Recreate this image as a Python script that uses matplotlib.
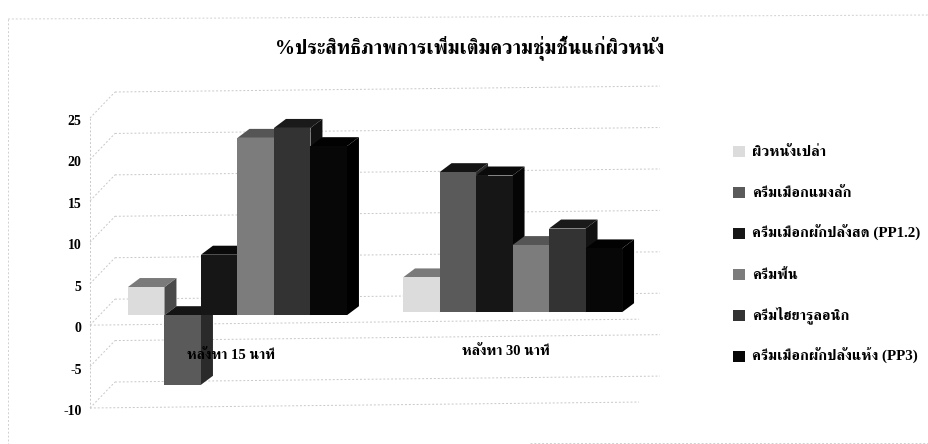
import matplotlib
matplotlib.use("Agg")
import matplotlib.pyplot as plt
from matplotlib.lines import Line2D
from matplotlib.patches import Polygon, Rectangle
from matplotlib.transforms import ScaledTranslation

plt.rcParams['font.family'] = ['Liberation Serif', 'FreeSerif', 'DejaVu Sans']
plt.rcParams['font.weight'] = 'bold'
plt.rcParams['axes.unicode_minus'] = False

# --- data ---
title = '%ประสิทธิภาพการเพิ่มเติมความชุ่มชื้นแก่ผิวหนัง'
categories = ['หลังทา 15 นาที', 'หลังทา 30 นาที']
series_names = ['ผิวหนังเปล่า', 'ครีมเมือกแมงลัก', 'ครีมเมือกผักปลังสด (PP1.2)',
                'ครีมพื้น', 'ครีมไฮยารูลอนิก', 'ครีมเมือกผักปลังแห้ง (PP3)']
skin = [3.4, 4.2]
mucilage = [-8.4, 16.9]
fresh_pp = [7.3, 16.5]
base_cream = [21.4, 8.1]
hyaluronic = [22.6, 10.1]
dried_pp = [20.4, 7.7]
series_values = [skin, mucilage, fresh_pp, base_cream, hyaluronic, dried_pp]
y_ticks = [-10, -5, 0, 5, 10, 15, 20, 25]

# front, side and top shades of each series
fronts = ['#dcdcdc', '#5a5a5a', '#161616', '#7c7c7c', '#333333', '#070707']
sides = ['#4a4a4a', '#2a2a2a', '#050505', '#303030', '#111111', '#000000']
tops = ['#7a7a7a', '#141414', '#0a0a0a', '#555555', '#1a1a1a', '#020202']

fig = plt.figure(figsize=(9.29, 4.44), dpi=100)
W, H = 929, 444
# axes box in pixels: x 90..660, value -10 at y=408 and 25 at y=118
ax = fig.add_axes([90 / W, 1 - 408 / H, 570 / W, 290 / H])
ax.set_ylim(-10, 25)
ax.set_xlim(-0.536, 1.536)

px_x = 2.072 / 570   # data units per pixel
px_y = 35 / 290
depth_x = 12 * px_x
depth_y = 9 * px_y
bar_w = 36.5 * px_x
planes = [1.2, 1.56]  # bars stand part way into the floor, the scan is a bit tilted
wall_x = 25 * px_x
wall_y = 26 * px_y
tilt = 0.36           # gridlines rise to the right in the scan
left = -0.536

grid = dict(color='#c8c8c8', lw=0.7, ls=(0, (2, 2)), zorder=1, clip_on=False)
for t in y_ticks:
    xa = left + wall_x
    ax.plot([xa, 1.536], [t + wall_y, t + wall_y + tilt * (1.536 - xa)], **grid)
    ax.plot([left, xa], [t, t + wall_y], **grid)
for t in [-10, 0]:
    ax.plot([left, 1.46], [t, t + tilt * (1.46 - left)], **grid)
ax.plot([left, left], [-10, 25], **grid)

# 3D looking bars, left to right in each group
for g in range(len(categories)):
    for i, vals in enumerate(series_values):
        x0 = g + (i - 3) * bar_w
        x1 = x0 + bar_w
        y0 = planes[g]
        y1 = planes[g] + vals[g]
        hi = max(y0, y1)
        lo = min(y0, y1)
        ax.add_patch(Polygon([(x1, lo), (x1 + depth_x, lo + depth_y), (x1 + depth_x, hi + depth_y), (x1, hi)],
                             facecolor=sides[i], edgecolor='none', zorder=3 + i, clip_on=False))
        ax.add_patch(Polygon([(x0, hi), (x0 + depth_x, hi + depth_y), (x1 + depth_x, hi + depth_y), (x1, hi)],
                             facecolor=tops[i], edgecolor='none', zorder=3 + i, clip_on=False))
        ax.bar(x0, hi - lo, width=bar_w, bottom=lo, align='edge', color=fronts[i], zorder=3 + i, clip_on=False)

ax.set_yticks(y_ticks)
ax.tick_params(axis='y', length=0, labelsize=10, pad=6)
ax.set_xticks([])
for s in ax.spines.values():
    s.set_visible(False)
ax.patch.set_alpha(0)
# tick text sits about 2px lower than the axis scale in the scan
shift = ScaledTranslation(0, -2 / 100, fig.dpi_scale_trans)
for lab in ax.get_yticklabels():
    lab.set_transform(lab.get_transform() + shift)

ax.text(-0.024, -3.7, categories[0], ha='center', va='center', fontsize=10.5, zorder=20)
ax.text(0.976, -3.24, categories[1], ha='center', va='center', fontsize=10.5, zorder=20)

fig.text(470 / W, 1 - 53 / H, title, ha='center', va='baseline', fontsize=14.4)

# legend rows, spaced by hand because the Thai marks change the row heights
for i, name in enumerate(series_names):
    row = 152 + i * 40.8
    fig.add_artist(Rectangle((733 / W, 1 - (row + 5.5) / H), 12 / W, 11 / H, transform=fig.transFigure,
                             facecolor=fronts[i], edgecolor='none'))
    fig.text(752 / W, 1 - (row + 4.5) / H, name, ha='left', va='baseline', fontsize=10.8)

# faint frame of the chart area
border = [([8, 929], [19, 15]), ([8, 8], [19, 444]), ([530, 929], [443, 443])]
for bx, by in border:
    fig.add_artist(Line2D([v / W for v in bx], [1 - v / H for v in by], transform=fig.transFigure,
                          color='#d0d0d0', lw=0.7, ls=(0, (2, 2))))

fig.savefig('out.png', dpi=100)
